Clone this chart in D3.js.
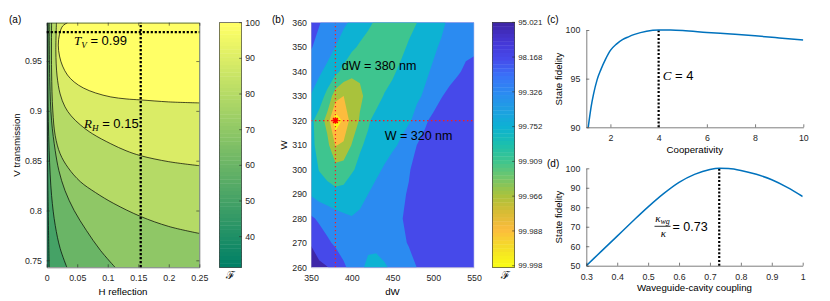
<!DOCTYPE html>
<html>
<head>
<meta charset="utf-8">
<script src="https://cdn.jsdelivr.net/npm/d3@7"></script>
<style>
  body { margin: 0; background: #fff; }
  svg { display: block; }
</style>
</head>
<body>
<script>
// ---------- (a) fidelity over H reflection / V transmission ----------
const aRDomain = [0, 0.25];
const aTDomain = [0.743, 0.9885];
const aXTicks = [0, 0.05, 0.1, 0.15, 0.2, 0.25];
const aYTicks = [0.75, 0.8, 0.85, 0.9, 0.95];
const aCbarTicks = [40, 50, 60, 70, 80, 90, 100];
const aCbarRange = [31.4, 100];
const aLevels = [40, 50, 60, 70, 80, 90];
// contour lines as [R_H, T_V], top edge -> bottom/right edge
const aLine40 = [[0.0008, 0.9885], [0.001, 0.9], [0.002, 0.82], [0.003, 0.78], [0.004, 0.743]];
const aLine50 = [[0.002, 0.9885], [0.002, 0.92], [0.004, 0.86], [0.008, 0.815], [0.014, 0.785], [0.022, 0.762], [0.033, 0.743]];
const aLine60 = [[0.004, 0.9885], [0.005, 0.93], [0.008, 0.89], [0.014, 0.86], [0.02, 0.84], [0.03, 0.82], [0.045, 0.8], [0.065, 0.78], [0.088, 0.76], [0.112, 0.743]];
const aLine70 = [[0.008, 0.9885], [0.008, 0.94], [0.01, 0.9], [0.014, 0.875], [0.022, 0.857], [0.035, 0.843], [0.055, 0.829], [0.08, 0.818], [0.11, 0.807], [0.154, 0.794], [0.2, 0.784], [0.25, 0.777]];
const aLine80 = [[0.016, 0.9885], [0.015, 0.96], [0.017, 0.935], [0.022, 0.917], [0.03, 0.904], [0.04, 0.895], [0.055, 0.886], [0.075, 0.877], [0.105, 0.867], [0.13, 0.86], [0.154, 0.855], [0.2, 0.849], [0.25, 0.845]];
const aLine90 = [[0.034, 0.9885], [0.026, 0.985], [0.021, 0.977], [0.019, 0.966], [0.021, 0.955], [0.026, 0.945], [0.034, 0.936], [0.045, 0.929], [0.06, 0.923], [0.08, 0.918], [0.105, 0.914], [0.13, 0.912], [0.154, 0.911], [0.2, 0.909], [0.25, 0.908]];
const aMarkR = 0.154;
const aMarkT = 0.979;

// ---------- (b) fidelity over dW / W ----------
const bDW = [350, 360, 370, 380, 390, 400, 410, 420, 430, 440, 450, 460, 470, 480, 490, 500, 510, 520, 530, 540, 550];
const bW = [260, 270, 280, 290, 300, 310, 320, 330, 340, 350, 360];
const bXTicks = [350, 400, 450, 500, 550];
const bYTicks = [260, 270, 280, 290, 300, 310, 320, 330, 340, 350, 360];
const bLevels = [95.021, 98.168, 99.326, 99.752, 99.909, 99.966, 99.988, 99.998];
// infidelity 100 - F (%), one row per W (260 .. 360), columns follow bDW
const bInfidelity = [
  [2.73, 2.24, 1.89, 1.29, 0.783, 0.499, 0.288, 0.213, 0.203, 0.224, 0.288, 0.389, 0.525, 0.68, 0.910, 1.11, 1.29, 1.36, 1.43, 1.50, 1.58],
  [1.74, 1.11, 0.783, 0.580, 0.452, 0.389, 0.335, 0.288, 0.288, 0.352, 0.452, 0.580, 0.708, 0.865, 1.06, 1.23, 1.36, 1.43, 1.50, 1.58, 1.66],
  [0.783, 0.580, 0.452, 0.370, 0.303, 0.261, 0.288, 0.335, 0.409, 0.475, 0.552, 0.641, 0.783, 0.956, 1.11, 1.23, 1.36, 1.43, 1.50, 1.58, 1.66],
  [0.224, 0.166, 0.143, 0.117, 0.123, 0.150, 0.193, 0.247, 0.335, 0.430, 0.525, 0.610, 0.708, 0.910, 1.11, 1.23, 1.36, 1.43, 1.50, 1.58, 1.66],
  [0.166, 0.0867, 0.0611, 0.0500, 0.0553, 0.0825, 0.111, 0.150, 0.203, 0.274, 0.370, 0.475, 0.641, 0.823, 1.01, 1.17, 1.29, 1.36, 1.43, 1.50, 1.58],
  [0.111, 0.0710, 0.0453, 0.0108, 0.0140, 0.0353, 0.0825, 0.106, 0.136, 0.166, 0.213, 0.274, 0.430, 0.68, 0.910, 1.11, 1.23, 1.36, 1.43, 1.50, 1.58],
  [0.111, 0.0611, 0.0230, 0.00060, 0.0029, 0.0184, 0.0371, 0.0825, 0.117, 0.143, 0.166, 0.193, 0.224, 0.318, 0.580, 0.865, 1.11, 1.29, 1.43, 1.50, 1.58],
  [0.236, 0.150, 0.0675, 0.0200, 0.0119, 0.0200, 0.0289, 0.0431, 0.0675, 0.0959, 0.117, 0.143, 0.175, 0.220, 0.274, 0.409, 0.641, 0.865, 1.06, 1.23, 1.36],
  [0.430, 0.288, 0.193, 0.117, 0.0710, 0.0410, 0.0390, 0.0431, 0.0526, 0.0642, 0.0809, 0.106, 0.136, 0.175, 0.220, 0.274, 0.370, 0.475, 0.610, 0.783, 0.865],
  [0.708, 0.525, 0.370, 0.243, 0.166, 0.111, 0.0785, 0.0611, 0.0526, 0.0500, 0.0553, 0.0746, 0.101, 0.136, 0.175, 0.220, 0.274, 0.370, 0.475, 0.552, 0.580],
  [1.01, 0.708, 0.525, 0.409, 0.288, 0.213, 0.158, 0.111, 0.0785, 0.0642, 0.0581, 0.0611, 0.0710, 0.0912, 0.123, 0.158, 0.213, 0.288, 0.370, 0.452, 0.552]
];
const bOptDW = 380;
const bOptW = 320;

// ---------- (c) fidelity vs cooperativity ----------
const cCoop = [1.08, 1.2, 1.3, 1.45, 1.6, 1.8, 2, 2.25, 2.5, 2.75, 3, 3.5, 4, 4.5, 5, 6, 7, 8, 9, 10];
const cFid = [90, 92.1, 93.4, 94.9, 95.9, 97.0, 97.9, 98.55, 99.0, 99.3, 99.55, 99.88, 100, 99.99, 99.94, 99.75, 99.58, 99.4, 99.19, 98.97];
const cXTicks = [2, 4, 6, 8, 10];
const cYTicks = [90, 95, 100];
const cOpt = 4;

// ---------- (d) fidelity vs waveguide-cavity coupling ----------
const dCoupling = [0.3, 0.35, 0.4, 0.45, 0.5, 0.55, 0.6, 0.65, 0.7, 0.73, 0.76, 0.8, 0.85, 0.9, 0.95, 1.0];
const dFid = [50, 57.6, 65.2, 72.8, 80.2, 87, 92.8, 96.9, 99.4, 100, 99.85, 98.9, 96.9, 94.1, 90.2, 85.5];
const dXTicks = [0.3, 0.4, 0.5, 0.6, 0.7, 0.8, 0.9, 1];
const dYTicks = [50, 60, 70, 80, 90, 100];
const dOpt = 0.73;

// colormaps (MATLAB summer / parula look-alikes)
const summer = d3.interpolateRgb("#008066", "#ffff66");
const parula = d3.scaleLinear()
  .domain([0, 0.071, 0.142, 0.213, 0.284, 0.355, 0.426, 0.497, 0.568, 0.639, 0.71, 0.781, 0.852, 0.923, 1])
  .range(["#3e26a8", "#4536d4", "#4649ea", "#3a72f8", "#2b8bf1", "#1e9fe2", "#0db2d3", "#1bbfae", "#3ec58f", "#74c66a", "#a9c23c", "#d8bc35", "#fcbc3d", "#f4dc29", "#f9fb15"])
  .interpolate(d3.interpolateRgb);

const font = '"Liberation Sans", Arial, sans-serif';
const serif = '"Liberation Serif", "DejaVu Serif", serif';
const ink = "#262626";

const svg = d3.select("body").append("svg")
  .attr("width", 830).attr("height", 301)
  .attr("font-family", font);
const defs = svg.append("defs");

function clip(id, x0, y0, x1, y1) {
  defs.append("clipPath").attr("id", id).append("rect")
    .attr("x", x0).attr("y", y0).attr("width", x1 - x0).attr("height", y1 - y0);
}

function styleAxis(g, fs) {
  g.attr("font-family", font).attr("font-size", fs);
  g.select(".domain").attr("stroke", ink).attr("stroke-width", 0.6);
  g.selectAll(".tick line").attr("stroke", ink).attr("stroke-width", 0.6);
  g.selectAll(".tick text").attr("fill", ink);
  return g;
}

function label(x, y, txt, size, opts) {
  const t = svg.append("text").attr("x", x).attr("y", y)
    .attr("font-size", size).attr("fill", "#000").text(txt);
  if (opts && opts.anchor) t.attr("text-anchor", opts.anchor);
  if (opts && opts.rotate) t.attr("transform", "rotate(-90," + x + "," + y + ")");
  return t;
}

// ================= panel (a) =================
const ax = d3.scaleLinear().domain(aRDomain).range([46.7, 199.3]);
const ay = d3.scaleLinear().domain(aTDomain).range([267.3, 22.7]);
const aColor = v => summer((v - aCbarRange[0]) / (aCbarRange[1] - aCbarRange[0]));
clip("clipA", 46.7, 22.7, 199.3, 267.3);

const aLines = [aLine40, aLine50, aLine60, aLine70, aLine80, aLine90];
const aLine = d3.line().x(d => ax(d[0])).y(d => ay(d[1])).curve(d3.curveCatmullRom.alpha(0.5));

function regionAbove(pts) {
  const last = pts[pts.length - 1];
  let d = aLine(pts);
  if (last[1] <= aTDomain[0] + 1e-6) d += "L" + ax(aRDomain[1]) + "," + ay(aTDomain[0]);
  d += "L" + ax(aRDomain[1]) + "," + ay(aTDomain[1]) + "Z";
  return d;
}

const gA = svg.append("g").attr("clip-path", "url(#clipA)");
gA.append("rect").attr("x", 46.7).attr("y", 22.7).attr("width", 152.6).attr("height", 244.6)
  .attr("fill", aColor(aLevels[0]));
aLines.forEach((pts, i) => {
  const upper = i + 1 < aLevels.length ? aLevels[i + 1] : aCbarRange[1];
  gA.append("path").attr("d", regionAbove(pts)).attr("fill", aColor(upper));
});
aLines.forEach(pts => {
  gA.append("path").attr("d", aLine(pts)).attr("fill", "none")
    .attr("stroke", "#000").attr("stroke-width", 0.7);
});

styleAxis(svg.append("g").attr("transform", "translate(0,267.3)")
  .call(d3.axisBottom(ax).tickValues(aXTicks).tickFormat(d3.format("~g")).tickSize(-3).tickSizeOuter(0).tickPadding(7.5)), 8.8);
styleAxis(svg.append("g").attr("transform", "translate(0,22.7)")
  .call(d3.axisTop(ax).tickValues(aXTicks).tickFormat("").tickSize(-3).tickSizeOuter(0)), 8.8);
styleAxis(svg.append("g").attr("transform", "translate(46.7,0)")
  .call(d3.axisLeft(ay).tickValues(aYTicks).tickFormat(d3.format("~g")).tickSize(-3).tickSizeOuter(0).tickPadding(4.7)), 8.8);
styleAxis(svg.append("g").attr("transform", "translate(199.3,0)")
  .call(d3.axisRight(ay).tickValues(aYTicks).tickFormat("").tickSize(-3).tickSizeOuter(0)), 8.8);

// dotted markers
svg.append("line").attr("x1", ax(aRDomain[0])).attr("x2", ax(aRDomain[1]))
  .attr("y1", ay(aMarkT)).attr("y2", ay(aMarkT))
  .attr("stroke", "#000").attr("stroke-width", 2.3).attr("stroke-dasharray", "2.2 1.8");
svg.append("line").attr("x1", ax(aMarkR)).attr("x2", ax(aMarkR))
  .attr("y1", ay(aTDomain[0])).attr("y2", ay(aTDomain[1]))
  .attr("stroke", "#000").attr("stroke-width", 2.3).attr("stroke-dasharray", "2.2 1.8");

function mathLabel(x, y, sym, sub, rest, size) {
  const t = svg.append("text").attr("x", x).attr("y", y).attr("font-size", size).attr("fill", "#000");
  t.append("tspan").attr("font-family", serif).attr("font-style", "italic").text(sym);
  if (sub) t.append("tspan").attr("font-family", serif).attr("font-style", "italic")
    .attr("font-size", size * 0.7).attr("dy", size * 0.25).text(sub);
  t.append("tspan").attr("dy", sub ? -size * 0.25 : 0).text(rest);
  return t;
}
mathLabel(74, 45, "T", "V", " = 0.99", 13);
mathLabel(84, 128, "R", "H", " = 0.15", 13);

label(9, 23, "(a)", 10);
label(19.5, 145, "V transmission", 9.7, { anchor: "middle", rotate: true });
label(123, 294.5, "H reflection", 9.7, { anchor: "middle" });

// colorbar (a)
const acx0 = 219.3, acx1 = 241.7;
const acy = d3.scaleLinear().domain(aCbarRange).range([267.3, 22.7]);
const nBands = 64;
d3.range(nBands).forEach(i => {
  const v0 = aCbarRange[0] + (aCbarRange[1] - aCbarRange[0]) * i / nBands;
  const v1 = aCbarRange[0] + (aCbarRange[1] - aCbarRange[0]) * (i + 1) / nBands;
  svg.append("rect").attr("x", acx0).attr("width", acx1 - acx0)
    .attr("y", acy(v1)).attr("height", acy(v0) - acy(v1) + 0.4)
    .attr("fill", summer(i / (nBands - 1)));
});
svg.append("rect").attr("x", acx0).attr("y", 22.7).attr("width", acx1 - acx0).attr("height", 244.6)
  .attr("fill", "none").attr("stroke", ink).attr("stroke-width", 0.6);
aCbarTicks.forEach(v => {
  svg.append("line").attr("x1", acx1 - 2.5).attr("x2", acx1).attr("y1", acy(v)).attr("y2", acy(v))
    .attr("stroke", ink).attr("stroke-width", 0.6);
  svg.append("text").attr("x", acx1 + 3.5).attr("y", acy(v)).attr("dy", "0.34em")
    .attr("font-size", 8.8).attr("fill", ink).text(v);
});
svg.append("text").attr("x", 230).attr("y", 279).attr("text-anchor", "middle")
  .attr("font-family", '"DejaVu Serif", serif').attr("font-size", 11).text("\u2131");

// ================= panel (b) =================
const bx = d3.scaleLinear().domain([350, 550]).range([311, 474]);
const by = d3.scaleLinear().domain([260, 360]).range([267.3, 22.7]);
clip("clipB", 311, 22.7, 474, 267.3);

const lnLevels = bLevels.map(v => Math.log(100 - v));
const toLevelIndex = d3.scaleLinear().domain(lnLevels).range(d3.range(bLevels.length));
const grid = bInfidelity.flat().map(v => toLevelIndex(Math.log(v)));
const bContours = d3.contours().size([bDW.length, bW.length])
  .thresholds(d3.range(bLevels.length))(grid);
const gx = d3.scaleLinear().domain([0.5, bDW.length - 0.5]).range([bDW[0], bDW[bDW.length - 1]]);
const gy = d3.scaleLinear().domain([0.5, bW.length - 0.5]).range([bW[0], bW[bW.length - 1]]);
const bColor = k => parula(k / 7.046);

const gB = svg.append("g").attr("clip-path", "url(#clipB)");
bContours.forEach(c => {
  const d = c.coordinates.map(poly => poly.map(ring =>
    "M" + ring.map(p => bx(gx(p[0])).toFixed(2) + "," + by(gy(p[1])).toFixed(2)).join("L") + "Z").join("")).join("");
  gB.append("path").attr("d", d).attr("fill", bColor(c.value)).attr("fill-rule", "evenodd");
});

// red dotted guides + optimum
gB.append("line").attr("x1", bx(bOptDW)).attr("x2", bx(bOptDW)).attr("y1", by(260)).attr("y2", by(360))
  .attr("stroke", "#ff1a1a").attr("stroke-width", 1.2).attr("stroke-dasharray", "1.4 2.6");
gB.append("line").attr("x1", bx(350)).attr("x2", bx(550)).attr("y1", by(bOptW)).attr("y2", by(bOptW))
  .attr("stroke", "#ff1a1a").attr("stroke-width", 1.2).attr("stroke-dasharray", "1.4 2.6");
const sx = bx(bOptDW), sy = by(bOptW), sr = 3.2;
svg.append("path")
  .attr("d", `M${sx - sr},${sy}H${sx + sr}M${sx},${sy - sr}V${sy + sr}` +
    `M${sx - sr * 0.75},${sy - sr * 0.75}L${sx + sr * 0.75},${sy + sr * 0.75}` +
    `M${sx - sr * 0.75},${sy + sr * 0.75}L${sx + sr * 0.75},${sy - sr * 0.75}`)
  .attr("stroke", "#ff0000").attr("stroke-width", 1.5).attr("fill", "none");

const bxAxis = styleAxis(svg.append("g").attr("transform", "translate(0,267.3)")
  .call(d3.axisBottom(bx).tickValues(bXTicks).tickSize(0).tickPadding(7.5)), 8.8);
const byAxis = styleAxis(svg.append("g").attr("transform", "translate(311,0)")
  .call(d3.axisLeft(by).tickValues(bYTicks).tickSize(0).tickPadding(4)), 8.8);
bxAxis.select(".domain").attr("stroke", "#a8a8c8").attr("stroke-width", 0.5);
byAxis.select(".domain").attr("stroke", "#a8a8c8").attr("stroke-width", 0.5);
svg.append("line").attr("x1", 474).attr("x2", 474).attr("y1", 22.7).attr("y2", 267.3)
  .attr("stroke", "#b8bce8").attr("stroke-width", 0.6);

label(341.7, 70, "dW = 380 nm", 12.5);
label(384.7, 140, "W = 320 nm", 12.5);
label(272, 23, "(b)", 10);
label(286.5, 145, "W", 9.7, { anchor: "middle", rotate: true });
label(392.5, 294.5, "dW", 9.7, { anchor: "middle" });

// colorbar (b)
const bcx0 = 492.3, bcx1 = 514.7;
const bcy = d3.scaleLinear().domain([0, 7]).range([22.3, 265.7]);
const bcMax = bcy.invert(267.3);
d3.range(nBands).forEach(i => {
  const u0 = bcMax * i / nBands, u1 = bcMax * (i + 1) / nBands;
  svg.append("rect").attr("x", bcx0).attr("width", bcx1 - bcx0)
    .attr("y", bcy(u0)).attr("height", bcy(u1) - bcy(u0) + 0.4)
    .attr("fill", parula(i / (nBands - 1)));
});
svg.append("rect").attr("x", bcx0).attr("y", 22.3).attr("width", bcx1 - bcx0).attr("height", 245)
  .attr("fill", "none").attr("stroke", ink).attr("stroke-width", 0.6);
bLevels.forEach((v, k) => {
  svg.append("line").attr("x1", bcx1 - 2.5).attr("x2", bcx1).attr("y1", bcy(k)).attr("y2", bcy(k))
    .attr("stroke", ink).attr("stroke-width", 0.6);
  svg.append("text").attr("x", bcx1 + 3.5).attr("y", bcy(k)).attr("dy", "0.34em")
    .attr("font-size", 7.9).attr("fill", ink).text(v.toFixed(3));
});
svg.append("text").attr("x", 505).attr("y", 279).attr("text-anchor", "middle")
  .attr("font-family", '"DejaVu Serif", serif').attr("font-size", 11).text("\u2131");

// ================= panel (c) =================
const cx = d3.scaleLinear().domain([1, 10]).range([586.3, 803.3]);
const cy = d3.scaleLinear().domain([90, 100]).range([127.3, 30]);
clip("clipC", 586.3, 28, 803.3, 127.3);
svg.append("line").attr("x1", cx(cOpt)).attr("x2", cx(cOpt)).attr("y1", cy(90)).attr("y2", cy(100))
  .attr("stroke", "#000").attr("stroke-width", 2.2).attr("stroke-dasharray", "2 1.8");
svg.append("path").datum(d3.zip(cCoop, cFid)).attr("clip-path", "url(#clipC)")
  .attr("d", d3.line().x(d => cx(d[0])).y(d => cy(d[1])).curve(d3.curveMonotoneX))
  .attr("fill", "none").attr("stroke", "#0072bd").attr("stroke-width", 1.5);
styleAxis(svg.append("g").attr("transform", "translate(0,127.3)")
  .call(d3.axisBottom(cx).tickValues(cXTicks).tickSize(-3).tickSizeOuter(0).tickPadding(7)), 8.8);
styleAxis(svg.append("g").attr("transform", "translate(586.3,0)")
  .call(d3.axisLeft(cy).tickValues(cYTicks).tickSize(-3).tickSizeOuter(0).tickPadding(6)), 8.8);
mathLabel(662.7, 79.5, "C", null, " = 4", 13);
label(547, 23, "(c)", 10);
label(561.5, 79, "State fidelity", 9.7, { anchor: "middle", rotate: true });
label(694.8, 152.5, "Cooperativity", 9.7, { anchor: "middle" });

// ================= panel (d) =================
const dx = d3.scaleLinear().domain([0.3, 1]).range([586.3, 802.7]);
const dy = d3.scaleLinear().domain([50, 100]).range([265.7, 168.3]);
clip("clipD", 586.3, 166, 802.7, 265.7);
svg.append("line").attr("x1", dx(dOpt)).attr("x2", dx(dOpt)).attr("y1", dy(50)).attr("y2", dy(100))
  .attr("stroke", "#000").attr("stroke-width", 2.2).attr("stroke-dasharray", "2 1.8");
svg.append("path").datum(d3.zip(dCoupling, dFid)).attr("clip-path", "url(#clipD)")
  .attr("d", d3.line().x(d => dx(d[0])).y(d => dy(d[1])).curve(d3.curveMonotoneX))
  .attr("fill", "none").attr("stroke", "#0072bd").attr("stroke-width", 1.5);
styleAxis(svg.append("g").attr("transform", "translate(0,265.7)")
  .call(d3.axisBottom(dx).tickValues(dXTicks).tickFormat(d3.format("~g")).tickSize(-3).tickSizeOuter(0).tickPadding(8)), 8.8);
styleAxis(svg.append("g").attr("transform", "translate(586.3,0)")
  .call(d3.axisLeft(dy).tickValues(dYTicks).tickSize(-3).tickSizeOuter(0).tickPadding(6)), 8.8);

// kappa_wg / kappa = 0.73
const num = svg.append("text").attr("x", 662.5).attr("y", 221.5).attr("text-anchor", "middle")
  .attr("font-size", 11).attr("font-family", serif).attr("font-style", "italic");
num.append("tspan").text("\u03ba");
num.append("tspan").attr("font-size", 8).attr("dy", 2.5).text("wg");
svg.append("line").attr("x1", 654.5).attr("x2", 670.5).attr("y1", 226.3).attr("y2", 226.3)
  .attr("stroke", "#000").attr("stroke-width", 0.8);
svg.append("text").attr("x", 663.5).attr("y", 236.5).attr("text-anchor", "middle")
  .attr("font-size", 11).attr("font-family", serif).attr("font-style", "italic").text("\u03ba");
label(672.5, 231, "= 0.73", 12.5);

label(547, 167, "(d)", 10);
label(561.5, 217, "State fidelity", 9.7, { anchor: "middle", rotate: true });
label(694.5, 290.5, "Waveguide-cavity coupling", 9.7, { anchor: "middle" });
</script>
</body>
</html>
